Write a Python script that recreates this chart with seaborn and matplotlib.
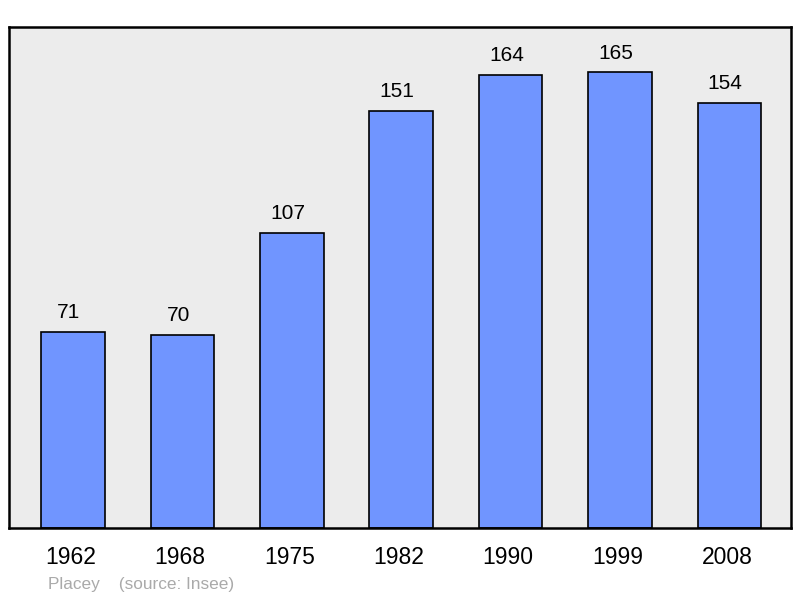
import matplotlib
matplotlib.use("Agg")
import matplotlib.pyplot as plt
import matplotlib.transforms as mtransforms
import seaborn as sns
import pandas as pd

years = ["1962", "1968", "1975", "1982", "1990", "1999", "2008"]
population = [71, 70, 107, 151, 164, 165, 154]

sns.set_style("white")
plt.rcParams['font.family'] = ['Liberation Sans', 'DejaVu Sans']

df = pd.DataFrame({"year": years, "pop": population})

fig = plt.figure(figsize=(8, 5.98), dpi=100)
ax = fig.add_axes([0.01125, 0.117, 0.9775, 0.838])
ax.set_facecolor("#ececec")

sns.barplot(data=df, x="year", y="pop", color="#7095ff", saturation=1,
            width=0.58, edgecolor="black", linewidth=1.2, ax=ax)

for i, v in enumerate(population):
    ax.annotate(str(v), xy=(i, v), xytext=(-3, 10), textcoords="offset points",
                ha="center", va="baseline", fontsize=15, color="black")

ax.set_xlim(-0.585, 6.563)
ax.set_ylim(0, 181.5)
ax.set_yticks([])
ax.set_xlabel("")
ax.set_ylabel("")
ax.tick_params(axis="x", length=0, labelsize=16.5, pad=13, labelcolor="black")
offset = mtransforms.ScaledTranslation(-2.5 / 100, 0, fig.dpi_scale_trans)
for lab in ax.get_xticklabels():
    lab.set_transform(lab.get_transform() + offset)
for s in ax.spines.values():
    s.set_visible(True)
    s.set_color("black")
    s.set_linewidth(1.8)

fig.text(48 / 800, 1 - 584 / 598, "Placey    (source: Insee)", fontsize=12.4,
         color="#aaaaaa", ha="left", va="center")

fig.savefig("out.png", dpi=100, facecolor="white")
